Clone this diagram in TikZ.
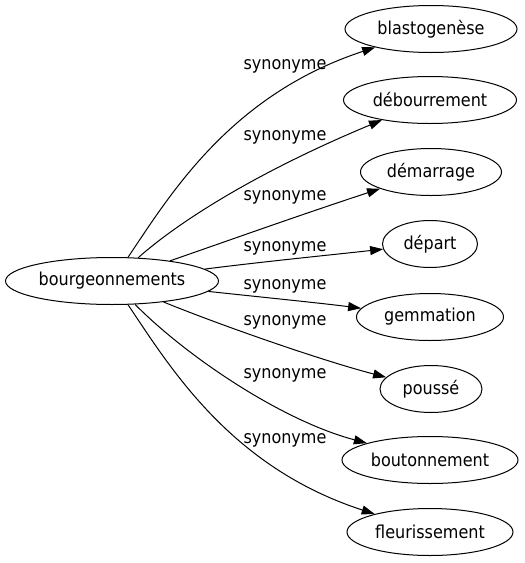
\documentclass[tikz,border=0pt]{standalone}
\usepackage{fontspec}
\setmainfont{DejaVu Sans Condensed}
\usetikzlibrary{shapes.geometric,arrows.meta}
\begin{document}
\begin{tikzpicture}[x=1pt,y=-1pt,
  word/.style={ellipse,draw,line width=1pt,minimum height=47pt,inner sep=0pt,font=\fontsize{17.8}{20}\selectfont},
  syn/.style={font=\fontsize{17.8}{20}\selectfont,inner sep=0pt},
  link/.style={line width=1pt,-{Triangle[length=13pt,width=9pt]}}]
\useasboundingbox (0,0) rectangle (525,563);
\node[word,minimum width=213pt] (m) at (112,281) {bourgeonnements};
\node[word,minimum width=172pt] (t1) at (431,29) {blastogenèse};
\node[word,minimum width=173pt] (t2) at (430,100) {débourrement};
\node[word,minimum width=141pt] (t3) at (431,172) {démarrage};
\node[word,minimum width=95pt] (t4) at (430,244) {départ};
\node[word,minimum width=147pt] (t5) at (430,317) {gemmation};
\node[word,minimum width=102pt] (t6) at (431,389) {poussé};
\node[word,minimum width=176pt] (t7) at (430,460) {boutonnement};
\node[word,minimum width=166pt] (t8) at (430,532) {fleurissement};
\draw[link] (m) .. controls (170,195) and (230,95) .. (t1);
\draw[link] (m) .. controls (175,225) and (250,175) .. (t2);
\draw[link] (m) .. controls (230,240) and (300,215) .. (t3);
\draw[link] (m) .. controls (260,262) and (330,255) .. (t4);
\draw[link] (m) .. controls (260,297) and (320,303) .. (t5);
\draw[link] (m) .. controls (220,325) and (320,360) .. (t6);
\draw[link] (m) .. controls (185,355) and (280,420) .. (t7);
\draw[link] (m) .. controls (170,367) and (230,467) .. (t8);
\node[syn] (l1) at (285,66) {synonyme};
\node[syn] (l2) at (285,137) {synonyme};
\node[syn] (l3) at (285,197) {synonyme};
\node[syn] (l4) at (285,248) {synonyme};
\node[syn] (l5) at (285,286) {synonyme};
\node[syn] (l6) at (285,322) {synonyme};
\node[syn] (l7) at (285,375) {synonyme};
\node[syn] (l8) at (285,440) {synonyme};
\end{tikzpicture}
\end{document}
